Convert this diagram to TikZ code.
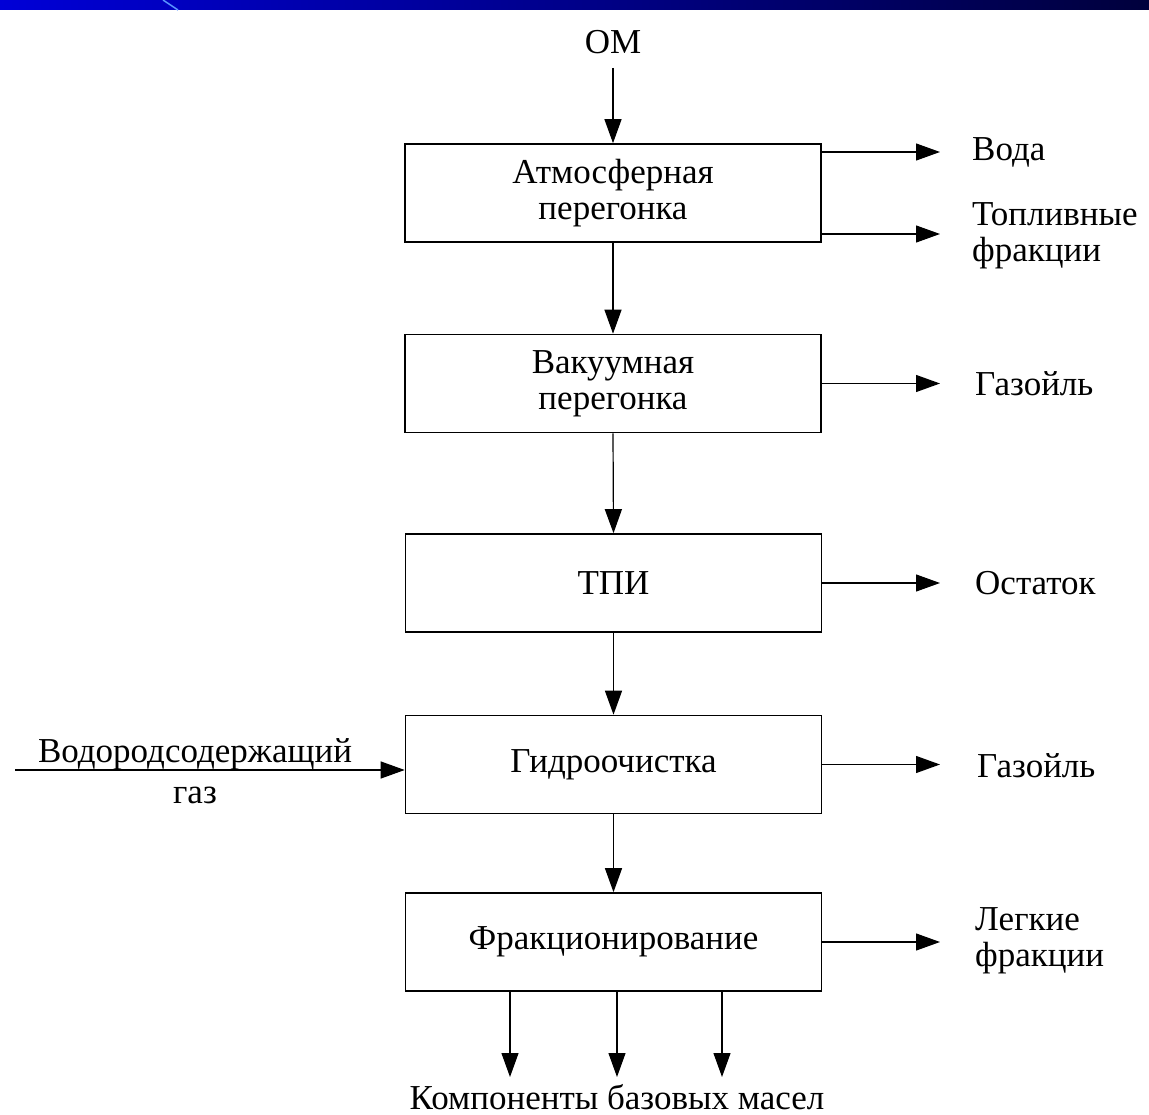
\documentclass[tikz,border=0pt]{standalone}
\usepackage{fontspec}
\setmainfont{Liberation Serif}
\usetikzlibrary{arrows.meta}
\definecolor{barL}{RGB}{0,0,215}
\definecolor{barR}{RGB}{0,0,60}
\definecolor{barLine}{RGB}{90,150,255}
\begin{document}
\begin{tikzpicture}[x=1pt,y=-1pt,
  stepbox/.style={draw,line width=1.6pt,minimum width=416pt,minimum height=98pt,inner sep=0pt,align=center,font=\fontsize{35}{36}\selectfont},
  lbl/.style={align=center,font=\fontsize{35}{36}\selectfont,inner sep=0pt},
  arr/.style={line width=1.2pt,-{Triangle[length=24pt,width=17pt]}}]
\useasboundingbox (0,0) rectangle (1149,1115);
\fill[white] (0,0) rectangle (1149,1115);
\shade[left color=barL,right color=barR] (0,0) rectangle (1149,10);
\draw[barLine,line width=1.5pt] (163,0) -- (178,10);

\node[stepbox] (b1) at (613,193) {Атмосферная\\перегонка};
\node[stepbox] (b2) at (613,383.5) {Вакуумная\\перегонка};
\node[stepbox] (b3) at (613.5,583) {ТПИ};
\node[stepbox] (b4) at (613.5,764.5) {Гидроочистка};
\node[stepbox] (b5) at (613.5,942) {Фракционирование};

\node[lbl] (om) at (613,42) {ОМ};
\draw[arr] (om.south) ++(0,14) coordinate (omS) (omS) -- (b1.north);
\draw[arr] (b1.south) -- (b2.north);
\draw[arr] (b2.south) -- (b3.north);
\draw[arr] (b3.south) -- (b4.north);
\draw[arr] (b4.south) -- (b5.north);

\node[lbl,anchor=west] (voda) at (972,152) {Вода};
\node[lbl,anchor=west,align=left] (topl) at (972,236) {Топливные\\фракции};
\node[lbl,anchor=west] (gaz1) at (975,384) {Газойль};
\node[lbl,anchor=west] (ost) at (975,583) {Остаток};
\node[lbl,anchor=west] (gaz2) at (977,766) {Газойль};
\node[lbl,anchor=west,align=left] (legk) at (975,941) {Легкие\\фракции};

\coordinate (v1) at (b1.east |- 0,152);
\coordinate (v2) at (b1.east |- 0,234);
\draw[arr] (v1) -- (940,152);
\draw[arr] (v2) -- (940,234);
\draw[arr] (b2.east) -- (940,383.5);
\draw[arr] (b3.east) -- (940,583);
\draw[arr] (b4.east) -- (940,764.5);
\draw[arr] (b5.east) -- (940,942);

\node[lbl,font=\fontsize{35}{41}\selectfont] (h2) at (195,771) {Водородсодержащий\\газ};
\coordinate (h2start) at (15,770);
\draw[arr] (h2start) -- (b4.west |- h2start);

\node[lbl] (komp) at (617,1097) {Компоненты базовых масел};
\coordinate (k1) at (b5.south -| 510,0);
\coordinate (k2) at (b5.south -| 617,0);
\coordinate (k3) at (b5.south -| 722,0);
\draw[arr] (k1) -- (510,1077);
\draw[arr] (k2) -- (617,1077);
\draw[arr] (k3) -- (722,1077);
\end{tikzpicture}
\end{document}
